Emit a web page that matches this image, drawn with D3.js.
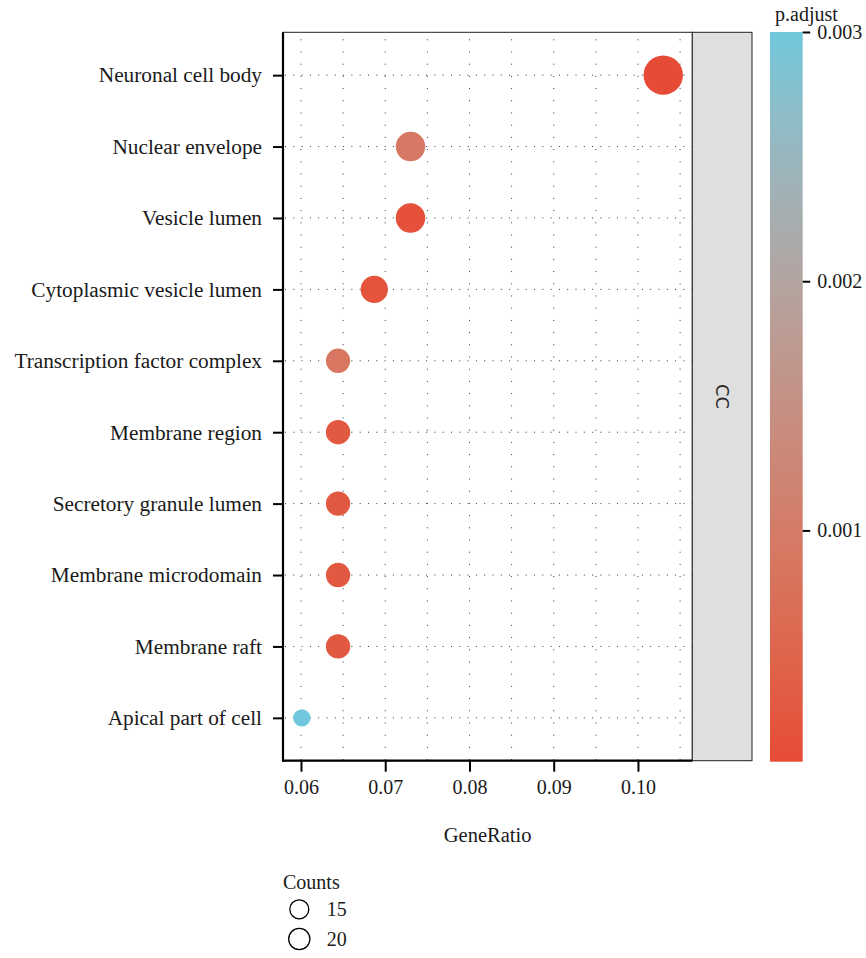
<!DOCTYPE html>
<html>
<head>
<meta charset="utf-8">
<script src="https://cdn.jsdelivr.net/npm/d3@7"></script>
<style>
  html, body { margin: 0; padding: 0; background: #fff; }
  svg { display: block; }
  text { font-family: "Liberation Serif", "Times New Roman", serif; fill: #1a1a1a; }
</style>
</head>
<body>
<svg id="chart" width="866" height="958"></svg>
<script>
// GO cellular component enrichment (CC)
const terms = [
  "Neuronal cell body",
  "Nuclear envelope",
  "Vesicle lumen",
  "Cytoplasmic vesicle lumen",
  "Transcription factor complex",
  "Membrane region",
  "Secretory granule lumen",
  "Membrane microdomain",
  "Membrane raft",
  "Apical part of cell"
];
const geneRatio = [0.1030, 0.0730, 0.0730, 0.0687, 0.0644, 0.0644, 0.0644, 0.0644, 0.0644, 0.0601];
const counts    = [24, 17, 17, 16, 15, 15, 15, 15, 15, 14];
const pAdjust   = [0.000072, 0.00092, 0.00016, 0.00022, 0.00088, 0.00030, 0.00030, 0.00029, 0.00030, 0.00300];

const xTicks = [0.06, 0.07, 0.08, 0.09, 0.10];
const xGrid  = [0.06, 0.065, 0.07, 0.075, 0.08, 0.085, 0.09, 0.095, 0.10, 0.105];
const colorTicks = [0.001, 0.002, 0.003];
const legendCounts = [15, 20];
const facetLabel = "CC";

const rows = terms.map((t, i) => ({ term: t, ratio: geneRatio[i], count: counts[i], p: pAdjust[i] }));

const svg = d3.select("#chart");

// panel geometry
const panel = { left: 283, right: 692.3, top: 32.3, bottom: 760.7 };
const strip = { left: 692.3, right: 752 };

const x = d3.scaleLinear().domain([0.057865, 0.10645]).range([panel.left, panel.right]);
const y = d3.scalePoint().domain(terms).range([panel.top, panel.bottom]).padding(0.6);

const pMin = d3.min(pAdjust), pMax = d3.max(pAdjust);
const color = d3.scaleLinear().domain([pMin, pMax]).range(["#E64B35", "#71C8DC"]).interpolate(d3.interpolateLab);

const cMin = d3.min(counts), cMax = d3.max(counts);
const radius = d3.scaleLinear().domain([0, 1]).range([8.7, 19.7]);
const r = c => radius(Math.sqrt((c - cMin) / (cMax - cMin)));

// panel background
svg.append("rect")
  .attr("x", panel.left).attr("y", panel.top)
  .attr("width", panel.right - panel.left).attr("height", panel.bottom - panel.top)
  .attr("fill", "#fff");

// dotted grid
const grid = svg.append("g");
grid.selectAll("line.v").data(xGrid).join("line")
  .attr("x1", d => x(d)).attr("x2", d => x(d))
  .attr("y1", panel.top + 7).attr("y2", panel.bottom)
  .attr("stroke", "#333").attr("stroke-width", 1)
  .attr("stroke-dasharray", "1,11.2");
grid.selectAll("line.h").data(terms).join("line")
  .attr("x1", panel.left + 2).attr("x2", panel.right)
  .attr("y1", d => y(d)).attr("y2", d => y(d))
  .attr("stroke", "#333").attr("stroke-width", 1)
  .attr("stroke-dasharray", "1,7.3");

// points
svg.append("g").selectAll("circle").data(rows).join("circle")
  .attr("cx", d => x(d.ratio))
  .attr("cy", d => y(d.term))
  .attr("r", d => r(d.count))
  .attr("fill", d => color(d.p));

// panel border
svg.append("rect")
  .attr("x", panel.left).attr("y", panel.top)
  .attr("width", panel.right - panel.left).attr("height", panel.bottom - panel.top)
  .attr("fill", "none").attr("stroke", "#222").attr("stroke-width", 1);

// facet strip
svg.append("rect")
  .attr("x", strip.left).attr("y", panel.top)
  .attr("width", strip.right - strip.left).attr("height", panel.bottom - panel.top)
  .attr("fill", "#E0DFE0").attr("stroke", "#222").attr("stroke-width", 1);
svg.append("text")
  .attr("transform", `translate(${(strip.left + strip.right) / 2},${(panel.top + panel.bottom) / 2}) rotate(90)`)
  .attr("text-anchor", "middle").attr("dominant-baseline", "central")
  .style("font-family", "'DejaVu Sans', sans-serif").style("font-size", "18px")
  .style("fill", "#2a2a2a")
  .text(facetLabel);

// y axis
const yAxis = svg.append("g")
  .attr("transform", `translate(${panel.left},0)`)
  .call(d3.axisLeft(y).tickSizeInner(10).tickSizeOuter(0).tickPadding(11));
yAxis.select(".domain").attr("d", `M0,${panel.top}V${panel.bottom + 1}`)
  .attr("stroke", "#000").attr("stroke-width", 2.2);
yAxis.selectAll(".tick line").attr("stroke", "#000").attr("stroke-width", 2);
yAxis.selectAll(".tick text")
  .style("font-family", "'Liberation Serif', serif").style("font-size", "21.3px").attr("fill", "#1a1a1a");

// x axis
const xAxis = svg.append("g")
  .attr("transform", `translate(0,${panel.bottom})`)
  .call(d3.axisBottom(x).tickValues(xTicks).tickFormat(d3.format(".2f")).tickSizeInner(11).tickSizeOuter(0).tickPadding(8));
xAxis.select(".domain").attr("d", `M${panel.left - 1},0H${panel.right}`).attr("stroke", "#000").attr("stroke-width", 2.2);
xAxis.selectAll(".tick line").attr("stroke", "#000").attr("stroke-width", 2);
xAxis.selectAll(".tick text")
  .style("font-family", "'Liberation Serif', serif").style("font-size", "20px").attr("fill", "#1a1a1a");

svg.append("text")
  .attr("x", (panel.left + panel.right) / 2).attr("y", 842)
  .attr("text-anchor", "middle").style("font-size", "20.5px")
  .text("GeneRatio");

// colour bar
const bar = { x: 770, w: 32.7, top: 32, bottom: 761.7 };
const cy = d3.scaleLinear().domain([pMin, pMax]).range([bar.bottom, bar.top]);
const grad = svg.append("defs").append("linearGradient")
  .attr("id", "pgrad").attr("x1", 0).attr("y1", 1).attr("x2", 0).attr("y2", 0);
d3.range(0, 1.0001, 0.05).forEach(t => {
  grad.append("stop").attr("offset", t).attr("stop-color", color(pMin + t * (pMax - pMin)));
});
svg.append("rect")
  .attr("x", bar.x).attr("y", bar.top).attr("width", bar.w).attr("height", bar.bottom - bar.top)
  .attr("fill", "url(#pgrad)");
const cAxis = svg.append("g")
  .attr("transform", `translate(${bar.x + bar.w},0)`)
  .call(d3.axisRight(cy).tickValues(colorTicks).tickFormat(d3.format(".3f")).tickSize(7.5).tickPadding(7));
cAxis.select(".domain").remove();
cAxis.selectAll(".tick line").attr("stroke", "#000").attr("stroke-width", 2);
cAxis.selectAll(".tick text")
  .style("font-family", "'Liberation Serif', serif").style("font-size", "20px").attr("fill", "#1a1a1a");
svg.append("text")
  .attr("x", 775).attr("y", 21)
  .style("font-size", "20px")
  .text("p.adjust");

// size legend
const legendR = d3.scaleLinear().domain([15, 20]).range([9.5, 10.6]);
svg.append("text").attr("x", 283).attr("y", 889).style("font-size", "20px").text("Counts");
const lg = svg.append("g").selectAll("g").data(legendCounts).join("g")
  .attr("transform", (d, i) => `translate(299.3,${909.3 + i * 29.7})`);
lg.append("circle").attr("r", d => legendR(d))
  .attr("fill", "#fff").attr("stroke", "#000").attr("stroke-width", 1.3);
lg.append("text").attr("x", 27.4).attr("dy", "0.35em")
  .style("font-size", "20px").text(d => d);
</script>
</body>
</html>
